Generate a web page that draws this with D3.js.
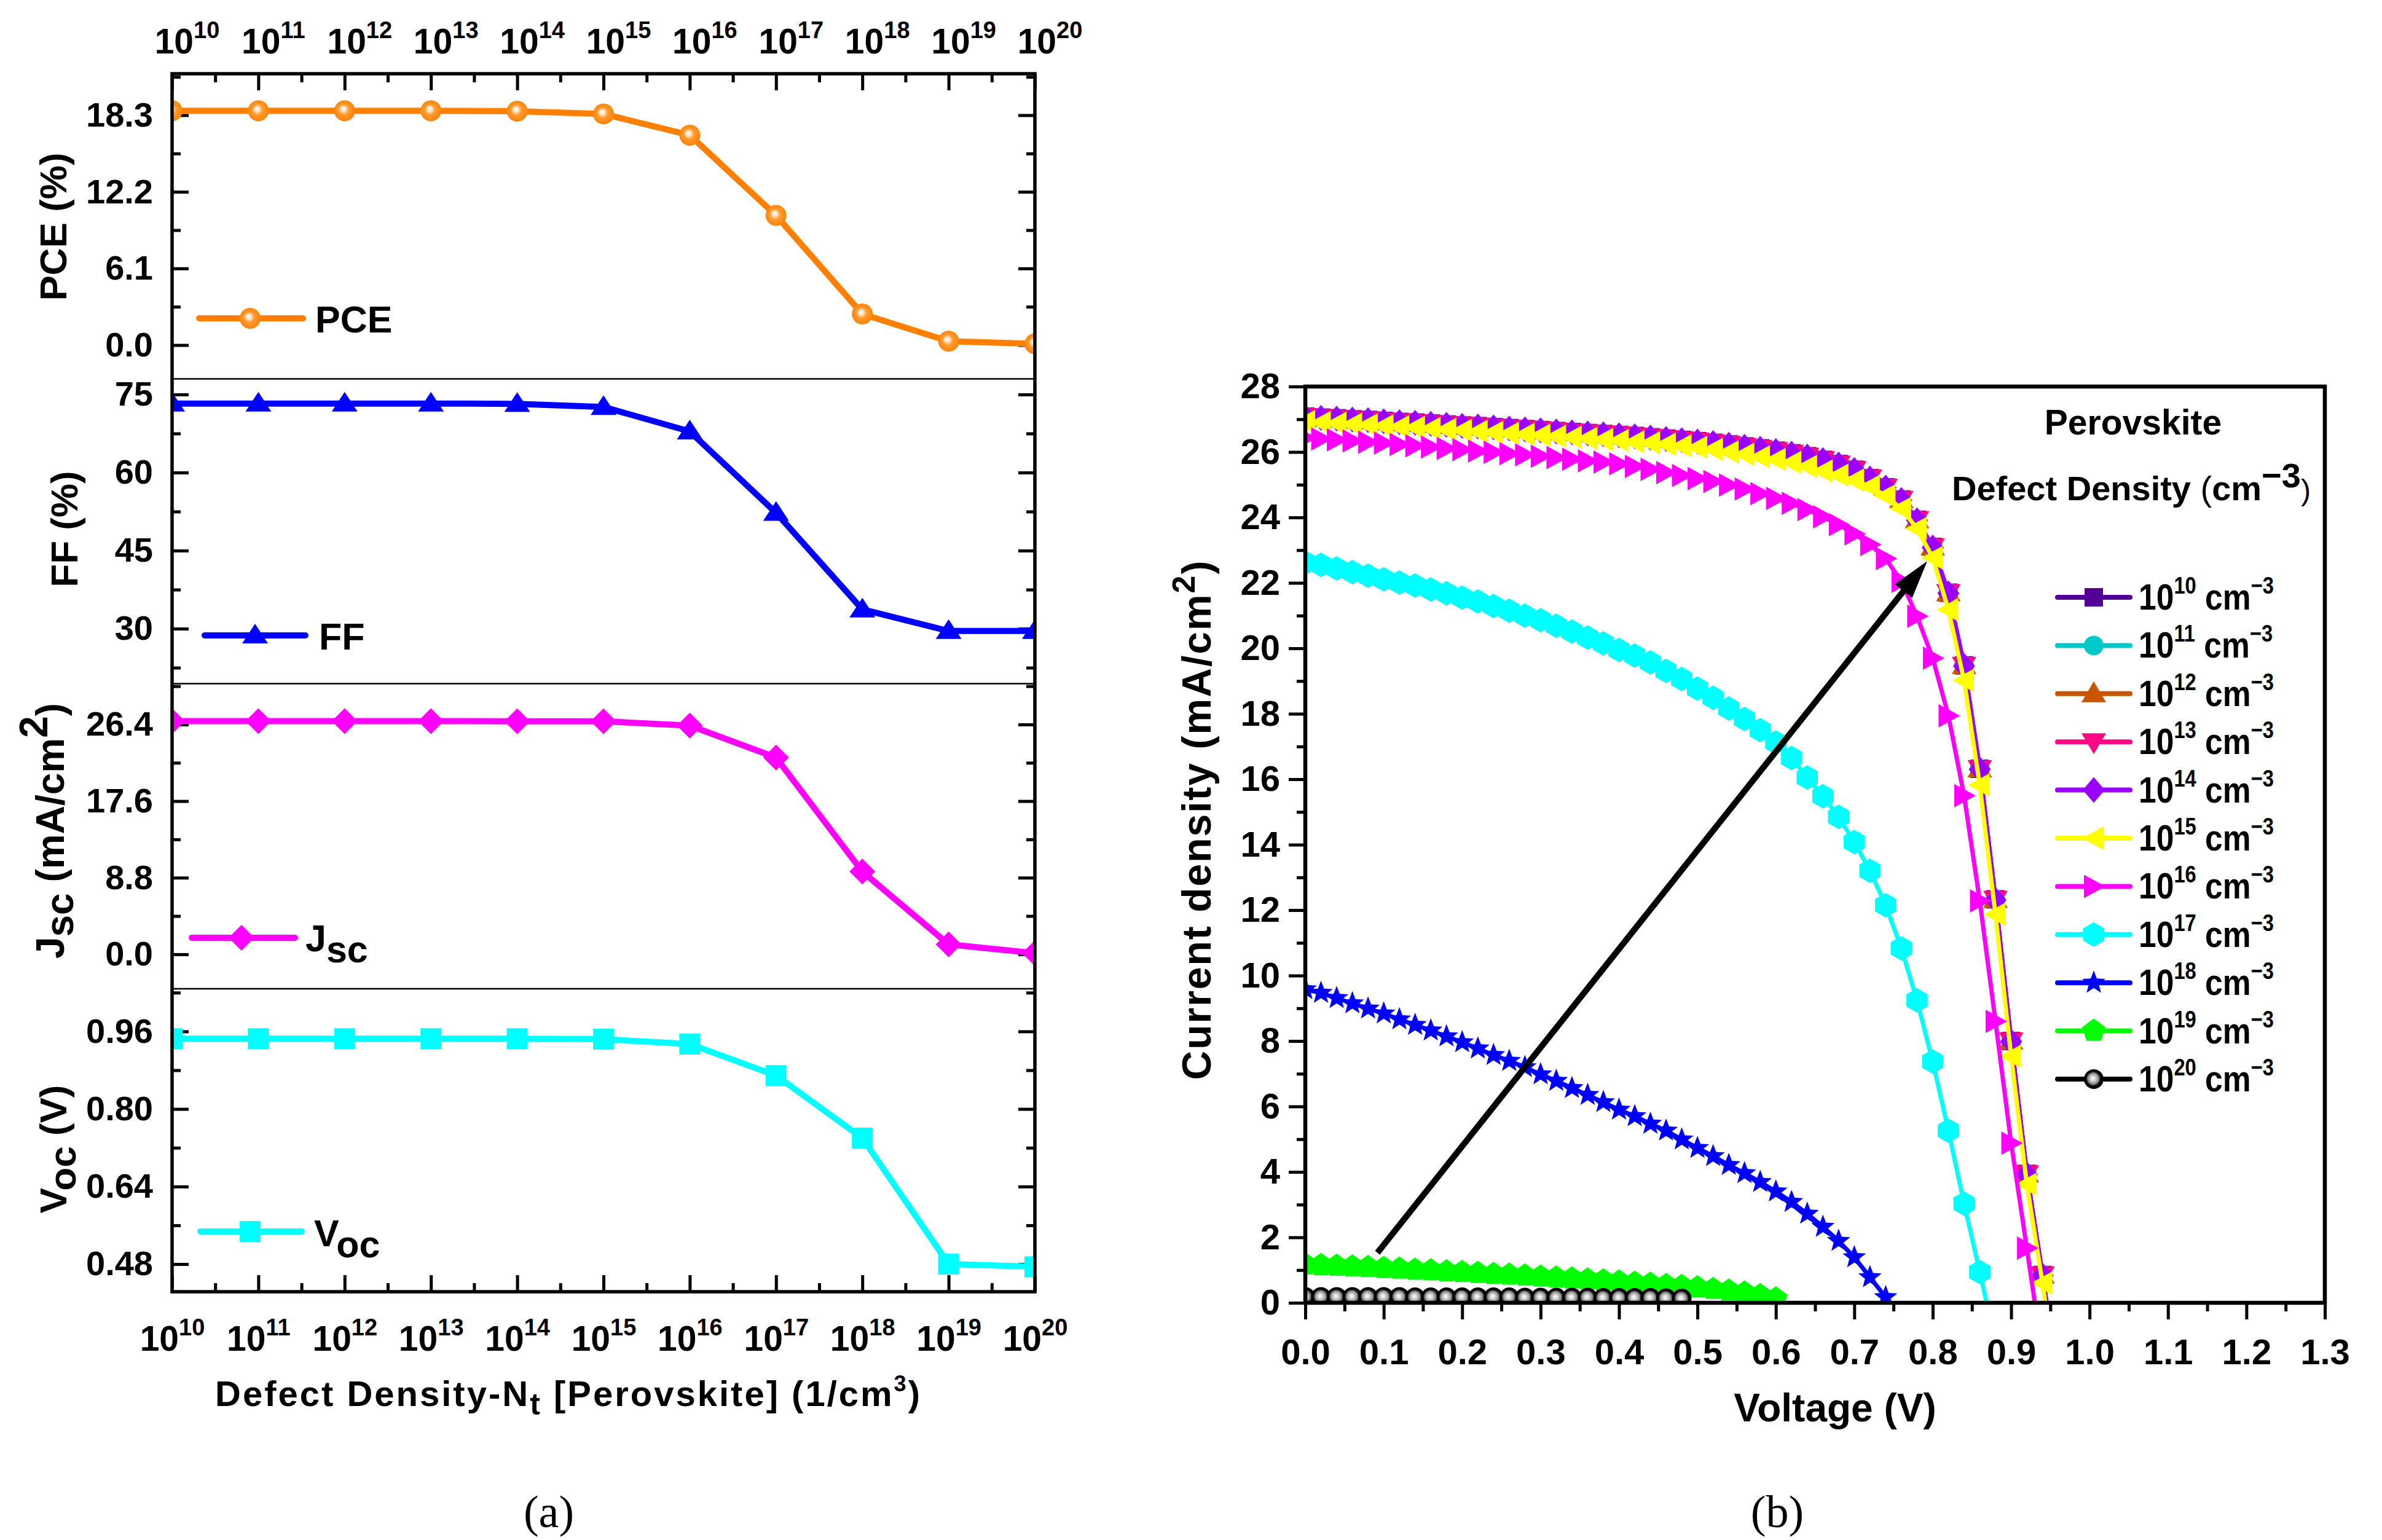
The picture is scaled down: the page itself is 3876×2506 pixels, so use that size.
<!DOCTYPE html>
<html lang="en">
<head>
<meta charset="UTF-8">
<script src="https://d3js.org/d3.v7.min.js"></script>
<style>
  body { margin: 0; background: #fff; }
  svg { display: block; }
  text { font-family: "Liberation Sans", Arial, sans-serif; font-weight: bold; fill: #000; }
  text.serif { font-family: "Liberation Serif", "Times New Roman", serif; font-weight: normal; }
</style>
</head>
<body>
<div id="chart"></div>
<script>
// ---- (a) device parameters vs perovskite defect density ----
const densities = [1e10, 1e11, 1e12, 1e13, 1e14, 1e15, 1e16, 1e17, 1e18, 1e19, 1e20];
const pce = [18.65, 18.65, 18.65, 18.65, 18.62, 18.4, 16.71, 10.32, 2.47, 0.31, 0.1];
const ff  = [73.26, 73.26, 73.26, 73.26, 73.2, 72.6, 67.9, 52.25, 33.7, 29.55, 29.55];
const jsc = [26.78, 26.78, 26.78, 26.78, 26.77, 26.76, 26.27, 22.6, 9.5, 1.14, 0.13];
const voc = [0.945, 0.945, 0.945, 0.945, 0.945, 0.944, 0.934, 0.869, 0.74, 0.48, 0.4745];

const pceTicks = [0, 6.1, 12.2, 18.3],   pceMinor = [3.05, 9.15, 15.25, 21.35];
const ffTicks  = [30, 45, 60, 75],       ffMinor  = [22.5, 37.5, 52.5, 67.5];
const jscTicks = [0, 8.8, 17.6, 26.4],   jscMinor = [4.4, 13.2, 22, 30.8];
const vocTicks = [0.48, 0.64, 0.80, 0.96], vocMinor = [0.56, 0.72, 0.88, 1.04];

// ---- (b) J-V curves, one point every 0.02 V ----
const voltage = [0, 0.02, 0.04, 0.06, 0.08, 0.1, 0.12, 0.14, 0.16, 0.18, 0.2, 0.22, 0.24, 0.26, 0.28, 0.3,
  0.32, 0.34, 0.36, 0.38, 0.4, 0.42, 0.44, 0.46, 0.48, 0.5, 0.52, 0.54, 0.56, 0.58, 0.6, 0.62, 0.64,
  0.66, 0.68, 0.7, 0.72, 0.74, 0.76, 0.78, 0.8, 0.82, 0.84, 0.86, 0.88, 0.9, 0.92, 0.94, 0.96];

const jv1e10 = [27.08, 27.05, 27.03, 27.00, 26.98, 26.95, 26.92, 26.90, 26.87, 26.84, 26.81, 26.79, 26.76,
  26.73, 26.70, 26.67, 26.64, 26.61, 26.58, 26.55, 26.52, 26.49, 26.45, 26.41, 26.37, 26.33, 26.28, 26.23,
  26.17, 26.11, 26.04, 25.96, 25.87, 25.76, 25.63, 25.46, 25.20, 24.92, 24.55, 23.93, 23.10, 21.70, 19.48,
  16.32, 12.33, 8.00, 3.94, 0.85, -2.50];
const jv1e11 = [27.08, 27.05, 27.03, 27.00, 26.98, 26.95, 26.92, 26.90, 26.87, 26.84, 26.81, 26.79, 26.76,
  26.73, 26.70, 26.67, 26.64, 26.61, 26.58, 26.55, 26.52, 26.49, 26.45, 26.41, 26.37, 26.33, 26.28, 26.23,
  26.17, 26.11, 26.04, 25.96, 25.87, 25.76, 25.63, 25.46, 25.20, 24.92, 24.55, 23.93, 23.10, 21.70, 19.48,
  16.32, 12.33, 8.00, 3.94, 0.85, -2.50];
const jv1e12 = [27.08, 27.05, 27.03, 27.00, 26.98, 26.95, 26.92, 26.90, 26.87, 26.84, 26.81, 26.79, 26.76,
  26.73, 26.70, 26.67, 26.64, 26.61, 26.58, 26.55, 26.52, 26.49, 26.45, 26.41, 26.37, 26.33, 26.28, 26.23,
  26.17, 26.11, 26.04, 25.96, 25.87, 25.76, 25.63, 25.46, 25.20, 24.92, 24.55, 23.93, 23.10, 21.70, 19.48,
  16.32, 12.33, 8.00, 3.94, 0.85, -2.50];
const jv1e13 = [27.08, 27.05, 27.03, 27.00, 26.98, 26.95, 26.92, 26.90, 26.87, 26.84, 26.81, 26.79, 26.76,
  26.73, 26.70, 26.67, 26.64, 26.61, 26.58, 26.55, 26.52, 26.49, 26.45, 26.41, 26.37, 26.33, 26.28, 26.23,
  26.17, 26.11, 26.04, 25.96, 25.87, 25.76, 25.63, 25.46, 25.20, 24.92, 24.55, 23.93, 23.10, 21.70, 19.48,
  16.32, 12.33, 8.00, 3.94, 0.85, -2.50];
const jv1e14 = [27.07, 27.04, 27.02, 26.99, 26.97, 26.94, 26.91, 26.89, 26.86, 26.83, 26.80, 26.78, 26.75,
  26.72, 26.69, 26.66, 26.63, 26.60, 26.57, 26.54, 26.51, 26.48, 26.44, 26.40, 26.36, 26.32, 26.27, 26.22,
  26.16, 26.10, 26.03, 25.95, 25.86, 25.75, 25.62, 25.45, 25.19, 24.91, 24.53, 23.91, 23.08, 21.68, 19.46,
  16.30, 12.31, 7.98, 3.92, 0.83, -2.52];
const jv1e15 = [26.93, 26.90, 26.88, 26.85, 26.83, 26.80, 26.77, 26.75, 26.72, 26.69, 26.66, 26.63, 26.60,
  26.57, 26.54, 26.51, 26.48, 26.45, 26.42, 26.38, 26.35, 26.31, 26.28, 26.24, 26.19, 26.14, 26.08, 26.00,
  25.93, 25.85, 25.77, 25.68, 25.56, 25.42, 25.29, 25.14, 24.95, 24.66, 24.27, 23.66, 22.77, 21.18, 19.02,
  15.82, 11.87, 7.53, 3.62, 0.60, -2.80];
const jv1e16 = [26.43, 26.40, 26.37, 26.34, 26.30, 26.27, 26.23, 26.19, 26.15, 26.11, 26.07, 26.03, 25.99,
  25.95, 25.91, 25.87, 25.83, 25.78, 25.73, 25.69, 25.64, 25.56, 25.47, 25.37, 25.28, 25.19, 25.10, 24.99,
  24.87, 24.73, 24.58, 24.43, 24.24, 24.02, 23.78, 23.50, 23.17, 22.74, 22.05, 20.98, 19.70, 17.94, 15.50,
  12.28, 8.60, 4.88, 1.67, -1.60];
const jv1e17 = [22.62, 22.55, 22.44, 22.33, 22.22, 22.11, 22.01, 21.92, 21.80, 21.68, 21.55, 21.43, 21.29,
  21.15, 21.00, 20.86, 20.69, 20.51, 20.33, 20.15, 19.95, 19.78, 19.57, 19.31, 19.06, 18.77, 18.49, 18.16,
  17.84, 17.50, 17.12, 16.65, 16.05, 15.48, 14.85, 14.08, 13.20, 12.15, 10.83, 9.24, 7.37, 5.26, 3.03,
  0.94, -1.20];
const jv1e18 = [9.58, 9.47, 9.31, 9.15, 8.99, 8.84, 8.66, 8.49, 8.32, 8.14, 7.96, 7.77, 7.57, 7.39, 7.20,
  6.98, 6.78, 6.56, 6.35, 6.13, 5.90, 5.70, 5.47, 5.26, 4.99, 4.73, 4.48, 4.21, 3.96, 3.69, 3.40, 3.08,
  2.72, 2.32, 1.89, 1.39, 0.78, 0.17, -0.50];
const jv1e19 = [1.17, 1.15, 1.13, 1.11, 1.09, 1.06, 1.04, 1.01, 0.99, 0.96, 0.94, 0.91, 0.88, 0.86, 0.83,
  0.80, 0.77, 0.74, 0.71, 0.68, 0.65, 0.61, 0.58, 0.54, 0.51, 0.47, 0.42, 0.37, 0.31, 0.23, 0.13, -0.30];
const jv1e20 = [0.18, 0.18, 0.18, 0.18, 0.18, 0.18, 0.18, 0.17, 0.17, 0.17, 0.17, 0.17, 0.17, 0.17, 0.16,
  0.16, 0.16, 0.16, 0.16, 0.15, 0.15, 0.15, 0.15, 0.14, 0.13, -0.50];

const jvExponents = [10, 11, 12, 13, 14, 15, 16, 17, 18, 19, 20];
const voltTicks = [0, 0.1, 0.2, 0.3, 0.4, 0.5, 0.6, 0.7, 0.8, 0.9, 1.0, 1.1, 1.2, 1.3];
const voltMinor = [0.05, 0.15, 0.25, 0.35, 0.45, 0.55, 0.65, 0.75, 0.85, 0.95, 1.05, 1.15, 1.25];
const currentTicks = [0, 2, 4, 6, 8, 10, 12, 14, 16, 18, 20, 22, 24, 26, 28];
const currentMinor = [1, 3, 5, 7, 9, 11, 13, 15, 17, 19, 21, 23, 25, 27];
const arrowStart = [0.092, 1.53], arrowEnd = [0.793, 22.66];

function polyPath(n, r) {
  const pts = d3.range(n).map(k => {
    const a = -Math.PI / 2 + k * 2 * Math.PI / n;
    return [r * Math.cos(a), r * Math.sin(a)];
  });
  return 'M' + pts.map(p => p.join(',')).join('L') + 'Z';
}
function starPath(ro, ri) {
  const pts = d3.range(10).map(k => {
    const a = -Math.PI / 2 + k * Math.PI / 5, r = k % 2 ? ri : ro;
    return [r * Math.cos(a), r * Math.sin(a)];
  });
  return 'M' + pts.map(p => p.join(',')).join('L') + 'Z';
}
function circlePath(r) {
  return `M${-r},0a${r},${r} 0 1,0 ${2 * r},0a${r},${r} 0 1,0 ${-2 * r},0Z`;
}
const shapes = {
  square: 'M-15,-15H15V15H-15Z',
  circle: circlePath(16),
  up: 'M0,-20L20,14L-20,14Z',
  down: 'M0,20L20,-14L-20,-14Z',
  diamond: 'M0,-21L18,0L0,21L-18,0Z',
  left: 'M-19,0L16,-19L16,19Z',
  right: 'M19,0L-16,-19L-16,19Z',
  hexagon: polyPath(6, 20),
  star: starPath(20, 8.5),
  pentagon: polyPath(5, 20),
  sphere: circlePath(16),
  bigSphere: circlePath(17),
  bigUp: 'M0,-19L21,13L-21,13Z',
  bigDiamond: 'M0,-21L21,0L0,21L-21,0Z',
  bigSquare: 'M-17,-17H17V17H-17Z'
};

// text with sub/superscripts; dy is the offset from the baseline
function rich(sel, parts) {
  let cur = 0;
  parts.forEach(p => {
    const off = p.dy || 0;
    const ts = sel.append('tspan').text(p.t);
    if (off - cur !== 0) ts.attr('dy', off - cur);
    if (p.size) ts.attr('font-size', p.size);
    if (p.weight) ts.attr('font-weight', p.weight);
    cur = off;
  });
}

function init() {
  const W = 3876, H = 2506;
  const svg = d3.select('#chart').append('svg')
    .attr('width', W).attr('height', H).attr('viewBox', `0 0 ${W} ${H}`);
  svg.append('rect').attr('width', W).attr('height', H).attr('fill', '#fff');
  const defs = svg.append('defs');

  const gO = defs.append('radialGradient').attr('id', 'sphereOrange')
    .attr('cx', '50%').attr('cy', '50%').attr('r', '55%').attr('fx', '42%').attr('fy', '40%');
  gO.append('stop').attr('offset', '0').attr('stop-color', '#fff');
  gO.append('stop').attr('offset', '0.22').attr('stop-color', '#ffe2c2');
  gO.append('stop').attr('offset', '0.45').attr('stop-color', '#ff9a30');
  gO.append('stop').attr('offset', '1').attr('stop-color', '#ff8000');
  const gB = defs.append('radialGradient').attr('id', 'sphereBlack')
    .attr('cx', '50%').attr('cy', '50%').attr('r', '55%').attr('fx', '45%').attr('fy', '45%');
  gB.append('stop').attr('offset', '0').attr('stop-color', '#fff');
  gB.append('stop').attr('offset', '0.2').attr('stop-color', '#ddd');
  gB.append('stop').attr('offset', '0.5').attr('stop-color', '#8a8a8a');
  gB.append('stop').attr('offset', '0.68').attr('stop-color', '#000');
  gB.append('stop').attr('offset', '1').attr('stop-color', '#000');

  // ================= panel (a) =================
  const L = { x0: 280, x1: 1684, top: 120, bottom: 2102 };
  const x = d3.scaleLog().domain([1e10, 1e20]).range([L.x0, L.x1]);
  const minorDensities = densities.slice(0, -1).map(d => d * Math.sqrt(10));

  const panels = [
    { values: pce, domain: [-2.69, 21.6], major: pceTicks, minor: pceMinor, fmt: '.1f', top: 120, bottom: 616.5,
      color: '#FF8000', shape: 'bigSphere', fill: 'url(#sphereOrange)',
      title: [{ t: 'PCE (%)' }], tx: 108, ty: 369,
      leg: { x1: 324, x2: 493, y: 518, mx: 407, tx: 513, ty: 541, parts: [{ t: 'PCE' }] } },
    { values: ff, domain: [19.43, 78.0], major: ffTicks, minor: ffMinor, fmt: 'd', top: 616.5, bottom: 1112.5,
      color: '#0000FF', shape: 'bigUp', fill: '#0000FF',
      title: [{ t: 'FF (%)' }], tx: 126, ty: 861,
      leg: { x1: 333, x2: 497, y: 1034, mx: 415, tx: 519, ty: 1057, parts: [{ t: 'FF' }] } },
    { values: jsc, domain: [-3.96, 31.09], major: jscTicks, minor: jscMinor, fmt: '.1f', top: 1112.5, bottom: 1609,
      color: '#FF00FF', shape: 'bigDiamond', fill: '#FF00FF',
      title: [{ t: 'J' }, { t: 'sc', dy: 15 }, { t: ' (mA/cm', dy: 0 }, { t: '2', dy: -27 }, { t: ')', dy: 0 }], tx: 104, ty: 1352,
      leg: { x1: 312, x2: 480, y: 1526, mx: 393, tx: 497, ty: 1548, parts: [{ t: 'J' }, { t: 'sc', dy: 18 }] } },
    { values: voc, domain: [0.423, 1.048], major: vocTicks, minor: vocMinor, fmt: '.2f', top: 1609, bottom: 2102,
      color: '#00FFFF', shape: 'bigSquare', fill: '#00FFFF',
      title: [{ t: 'V' }, { t: 'oc', dy: 15 }, { t: ' (V)', dy: 0 }], tx: 108, ty: 1870,
      leg: { x1: 326, x2: 491, y: 2004, mx: 407, tx: 511, ty: 2028, parts: [{ t: 'V' }, { t: 'oc', dy: 18 }] } }
  ];
  const titleSizes = [62, 62, 64, 62];

  panels.forEach((p, i) => {
    const y = d3.scaleLinear().domain(p.domain).range([p.bottom, p.top]);
    const clipId = 'clipA' + i;
    defs.append('clipPath').attr('id', clipId).append('rect')
      .attr('x', L.x0).attr('y', p.top).attr('width', L.x1 - L.x0).attr('height', p.bottom - p.top);

    // y axes (ticks inward on both sides)
    const gl = svg.append('g').attr('transform', `translate(${L.x0},0)`)
      .call(d3.axisLeft(y).tickValues(p.major).tickSize(-27).tickSizeOuter(0).tickPadding(31)
        .tickFormat(d3.format(p.fmt)));
    gl.attr('font-size', 56);
    gl.select('.domain').remove();
    gl.selectAll('line').attr('stroke-width', 5);
    const glm = svg.append('g').attr('transform', `translate(${L.x0},0)`)
      .call(d3.axisLeft(y).tickValues(p.minor).tickSize(-14).tickSizeOuter(0).tickFormat(''));
    glm.select('.domain').remove();
    glm.selectAll('line').attr('stroke-width', 5);
    const gr = svg.append('g').attr('transform', `translate(${L.x1},0)`)
      .call(d3.axisRight(y).tickValues(p.major).tickSize(-27).tickSizeOuter(0).tickFormat(''));
    gr.select('.domain').remove();
    gr.selectAll('line').attr('stroke-width', 5);
    const grm = svg.append('g').attr('transform', `translate(${L.x1},0)`)
      .call(d3.axisRight(y).tickValues(p.minor).tickSize(-14).tickSizeOuter(0).tickFormat(''));
    grm.select('.domain').remove();
    grm.selectAll('line').attr('stroke-width', 5);

    // data
    const gd = svg.append('g').attr('clip-path', `url(#${clipId})`);
    gd.append('path').datum(p.values.map((v, k) => [densities[k], v]))
      .attr('fill', 'none').attr('stroke', p.color).attr('stroke-width', 10).attr('stroke-linejoin', 'round')
      .attr('d', d3.line().x(d => x(d[0])).y(d => y(d[1])));
    gd.selectAll('path.mk').data(p.values.map((v, k) => [densities[k], v])).join('path')
      .attr('class', 'mk').attr('d', shapes[p.shape]).attr('fill', p.fill)
      .attr('transform', d => `translate(${x(d[0])},${y(d[1])})`);

    // legend
    svg.append('line').attr('x1', p.leg.x1).attr('x2', p.leg.x2).attr('y1', p.leg.y).attr('y2', p.leg.y)
      .attr('stroke', p.color).attr('stroke-width', 10).attr('stroke-linecap', 'round');
    svg.append('path').attr('d', shapes[p.shape]).attr('fill', p.fill)
      .attr('transform', `translate(${p.leg.mx},${p.leg.y})`);
    rich(svg.append('text').attr('x', p.leg.tx).attr('y', p.leg.ty).attr('font-size', 61), p.leg.parts);

    // y title
    rich(svg.append('text').attr('transform', `translate(${p.tx},${p.ty}) rotate(-90)`)
      .attr('text-anchor', 'middle').attr('font-size', titleSizes[i]), p.title);
  });

  // x axes of (a)
  const supTick = function (d) {
    const t = d3.select(this).text('');
    rich(t, [{ t: '10' }, { t: String(Math.round(Math.log10(d))), dy: -25, size: 38 }]);
  };
  const gt = svg.append('g').attr('transform', `translate(0,${L.top})`)
    .call(d3.axisTop(x).tickValues(densities).tickSize(-27).tickSizeOuter(0).tickPadding(33));
  gt.attr('font-size', 57);
  gt.select('.domain').remove();
  gt.selectAll('line').attr('stroke-width', 5);
  gt.selectAll('.tick text').attr('x', 24).each(supTick);
  const gtm = svg.append('g').attr('transform', `translate(0,${L.top})`)
    .call(d3.axisTop(x).tickValues(minorDensities).tickSize(-14).tickSizeOuter(0).tickFormat(''));
  gtm.select('.domain').remove();
  gtm.selectAll('line').attr('stroke-width', 5);

  const gb = svg.append('g').attr('transform', `translate(0,${L.bottom})`)
    .call(d3.axisBottom(x).tickValues(densities).tickSize(-27).tickSizeOuter(0).tickPadding(56));
  gb.attr('font-size', 57);
  gb.select('.domain').remove();
  gb.selectAll('line').attr('stroke-width', 5);
  gb.selectAll('.tick text').each(supTick);
  const gbm = svg.append('g').attr('transform', `translate(0,${L.bottom})`)
    .call(d3.axisBottom(x).tickValues(minorDensities).tickSize(-14).tickSizeOuter(0).tickFormat(''));
  gbm.select('.domain').remove();
  gbm.selectAll('line').attr('stroke-width', 5);

  // frame and separators of (a)
  [panels[1].top, panels[2].top, panels[3].top].forEach(yy => {
    svg.append('line').attr('x1', L.x0).attr('x2', L.x1).attr('y1', yy).attr('y2', yy)
      .attr('stroke', '#000').attr('stroke-width', 2.5);
  });
  svg.append('rect').attr('x', L.x0).attr('y', L.top).attr('width', L.x1 - L.x0).attr('height', L.bottom - L.top)
    .attr('fill', 'none').attr('stroke', '#000').attr('stroke-width', 5.5);

  rich(svg.append('text').attr('x', 925).attr('y', 2288).attr('text-anchor', 'middle')
    .attr('font-size', 58).attr('letter-spacing', 3),
    [{ t: 'Defect Density-N' }, { t: 't', dy: 14, size: 50 }, { t: ' [Perovskite] (1/cm', dy: 0 },
     { t: '3', dy: -24, size: 36 }, { t: ')', dy: 0 }]);

  svg.append('text').attr('class', 'serif').attr('x', 893).attr('y', 2485)
    .attr('text-anchor', 'middle').attr('font-size', 74).text('(a)');

  // ================= panel (b) =================
  const R = { x0: 2124, x1: 3783, top: 629, bottom: 2120 };
  const xV = d3.scaleLinear().domain([0, 1.3]).range([R.x0, R.x1]);
  const yJ = d3.scaleLinear().domain([0, 28]).range([R.bottom, R.top]);
  defs.append('clipPath').attr('id', 'clipB').append('rect')
    .attr('x', R.x0).attr('y', R.top).attr('width', R.x1 - R.x0).attr('height', R.bottom - R.top);

  const series = [jv1e10, jv1e11, jv1e12, jv1e13, jv1e14, jv1e15, jv1e16, jv1e17, jv1e18, jv1e19, jv1e20];
  const styles = [
    { color: '#520096', shape: 'square' },
    { color: '#00C8C8', shape: 'circle' },
    { color: '#C85500', shape: 'up' },
    { color: '#FF0A82', shape: 'down' },
    { color: '#9A00FF', shape: 'diamond' },
    { color: '#FFFF00', shape: 'left' },
    { color: '#FF00FF', shape: 'right' },
    { color: '#00FFFF', shape: 'hexagon' },
    { color: '#0000FF', shape: 'star' },
    { color: '#00FF00', shape: 'pentagon' },
    { color: '#000000', shape: 'sphere', fill: 'url(#sphereBlack)' }
  ];

  const gPlot = svg.append('g').attr('clip-path', 'url(#clipB)');
  const line = d3.line().x(d => xV(d[0])).y(d => yJ(d[1]));
  series.forEach((vals, i) => {
    const st = styles[i];
    const pts = vals.map((j, k) => [voltage[k], j]);
    const g = gPlot.append('g');
    g.append('path').datum(pts).attr('fill', 'none').attr('stroke', st.color)
      .attr('stroke-width', 7).attr('stroke-linejoin', 'round').attr('d', line);
    g.selectAll('path.mk').data(pts).join('path').attr('class', 'mk')
      .attr('d', shapes[st.shape]).attr('fill', st.fill || st.color)
      .attr('transform', d => `translate(${xV(d[0])},${yJ(d[1])})`);
  });

  // arrow
  const ax0 = xV(arrowStart[0]), ay0 = yJ(arrowStart[1]);
  const ax1 = xV(arrowEnd[0]), ay1 = yJ(arrowEnd[1]);
  const len = Math.hypot(ax1 - ax0, ay1 - ay0), ux = (ax1 - ax0) / len, uy = (ay1 - ay0) / len;
  const headL = 62, headW = 18;
  const bx = ax1 - ux * headL, by = ay1 - uy * headL;
  svg.append('line').attr('x1', ax0).attr('y1', ay0).attr('x2', bx + ux * 5).attr('y2', by + uy * 5)
    .attr('stroke', '#000').attr('stroke-width', 10);
  svg.append('path').attr('fill', '#000')
    .attr('d', `M${ax1},${ay1}L${bx - uy * headW},${by + ux * headW}L${bx + uy * headW},${by - ux * headW}Z`);

  // axes of (b)
  const gxb = svg.append('g').attr('transform', `translate(0,${R.bottom})`)
    .call(d3.axisBottom(xV).tickValues(voltTicks).tickSize(27).tickSizeOuter(0).tickPadding(32)
      .tickFormat(d3.format('.1f')));
  gxb.attr('font-size', 58);
  gxb.select('.domain').remove();
  gxb.selectAll('line').attr('stroke-width', 5);
  const gxm = svg.append('g').attr('transform', `translate(0,${R.bottom})`)
    .call(d3.axisBottom(xV).tickValues(voltMinor).tickSize(14).tickSizeOuter(0).tickFormat(''));
  gxm.select('.domain').remove();
  gxm.selectAll('line').attr('stroke-width', 5);
  const gyb = svg.append('g').attr('transform', `translate(${R.x0},0)`)
    .call(d3.axisLeft(yJ).tickValues(currentTicks).tickSize(27).tickSizeOuter(0).tickPadding(14)
      .tickFormat(d3.format('d')));
  gyb.attr('font-size', 58);
  gyb.select('.domain').remove();
  gyb.selectAll('line').attr('stroke-width', 5);
  const gym = svg.append('g').attr('transform', `translate(${R.x0},0)`)
    .call(d3.axisLeft(yJ).tickValues(currentMinor).tickSize(14).tickSizeOuter(0).tickFormat(''));
  gym.select('.domain').remove();
  gym.selectAll('line').attr('stroke-width', 5);

  svg.append('rect').attr('x', R.x0).attr('y', R.top).attr('width', R.x1 - R.x0).attr('height', R.bottom - R.top)
    .attr('fill', 'none').attr('stroke', '#000').attr('stroke-width', 6.5);

  rich(svg.append('text').attr('x', 2986).attr('y', 2313).attr('text-anchor', 'middle').attr('font-size', 64),
    [{ t: 'Voltage (V)' }]);
  rich(svg.append('text').attr('transform', 'translate(1970,1334) rotate(-90)').attr('text-anchor', 'middle')
    .attr('font-size', 66).attr('letter-spacing', 2),
    [{ t: 'Current density (mA/cm' }, { t: '2', dy: -26, size: 52 }, { t: ')', dy: 0 }]);

  // legend of (b)
  svg.append('text').attr('x', 3471).attr('y', 707).attr('text-anchor', 'middle').attr('font-size', 57)
    .text('Perovskite');
  rich(svg.append('text').attr('x', 3468).attr('y', 814).attr('text-anchor', 'middle').attr('font-size', 56),
    [{ t: 'Defect Density ' }, { t: '(', weight: 'normal' }, { t: 'cm' }, { t: '\u22123', dy: -21 },
     { t: ')', dy: 0, weight: 'normal', size: 48 }]);

  const legY = d3.scaleLinear().domain([0, 10]).range([972, 1756]);
  jvExponents.forEach((e, i) => {
    const st = styles[i], yy = legY(i);
    svg.append('line').attr('x1', 3348).attr('x2', 3466).attr('y1', yy).attr('y2', yy)
      .attr('stroke', st.color).attr('stroke-width', 8).attr('stroke-linecap', 'round');
    svg.append('path').attr('d', shapes[st.shape]).attr('fill', st.fill || st.color)
      .attr('transform', `translate(3407,${yy})`);
    // condensed lettering, as in the original legend
    rich(svg.append('text').attr('transform', `translate(3480,${yy + 20}) scale(0.86,1)`).attr('font-size', 60),
      [{ t: '10' }, { t: String(e), dy: -26, size: 38 }, { t: ' cm', dy: 0 }, { t: '\u22123', dy: -26, size: 38 }]);
  });

  svg.append('text').attr('class', 'serif').attr('x', 2892).attr('y', 2485)
    .attr('text-anchor', 'middle').attr('font-size', 74).text('(b)');
}

init();
</script>
</body>
</html>
